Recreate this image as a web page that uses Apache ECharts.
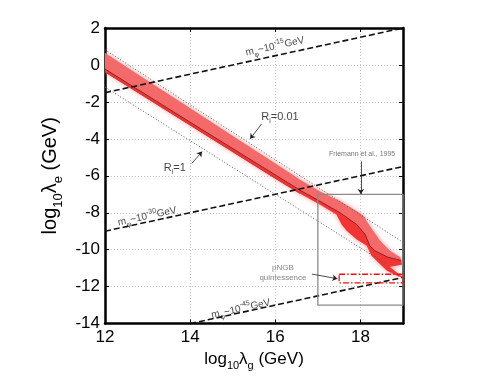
<!DOCTYPE html>
<html><head><meta charset="utf-8">
<script src="https://cdn.jsdelivr.net/npm/echarts@6/dist/echarts.min.js"></script>
<style>html,body{margin:0;padding:0;background:#fff}#c{width:501px;height:376px}</style>
</head><body><div id="c"></div>
<script>
// ---- data ----
const xTicks = [12, 14, 16, 18];
const yTicks = [-14, -12, -10, -8, -6, -4, -2, 0, 2];
const bandUpper = [[12,0.65],[13,-0.85],[14,-2.34],[15,-3.84],[16,-5.33],[16.58,-6.22],[17.05,-6.85],[17.52,-7.38],[17.91,-7.92],[18.07,-8.18],[18.22,-8.72],[18.46,-9.52],[18.69,-10.06],[18.93,-10.41],[18.97,-10.6]];
const bandNotch = [[18.97,-10.82],[18.68,-10.92],[18.97,-11.45]];
const bandLower = [[12,-0.38],[14,-3.26],[16,-6.14],[16.58,-6.96],[17.05,-7.56],[17.44,-8.09],[17.56,-8.63],[17.68,-8.98],[17.91,-9.43],[18.15,-9.79],[18.26,-10.32],[18.46,-10.77],[18.62,-11.13],[18.85,-11.39],[18.97,-11.5]];
const coreLine = [[12,-0.22],[14,-3.1],[16,-5.95],[16.58,-6.78],[17.05,-7.38],[17.52,-8.0],[17.91,-8.63],[18.11,-9.17],[18.22,-9.79],[18.34,-10.06],[18.65,-10.41],[18.95,-10.58]];
const mass15 = [[12,-1.5],[19,2]];
const mass30 = [[12,-9],[19,-5.5]];
const mass45 = [[14,-14],[19,-11.5]];
const dotUpper = [[12,0.82],[19,-9.6]];
const dotLower = [[12,-1.2],[18.6,-10.77]];
const friemannBox = [[17,-7],[19,-7],[19,-13],[17,-13],[17,-7]];
const pngbBox = [[17.5,-11.33],[19,-11.33],[19,-11.8],[17.5,-11.8],[17.5,-11.33]];
const annoText = [
  '{m|m}{b|φ}{m|~10}{p|-15}{m|GeV}',
  '{m|m}{b|φ}{m|~10}{p|-30}{m|GeV}',
  '{m|m}{b|φ}{m|~10}{p|-45}{m|GeV}',
  '{r|R}{i|i}{r|=0.01}',
  '{r|R}{i|i}{r|=1}',
  '{f|Friemann et al., 1995}',
  '{q|pNGB}\n{q|quintessence}'
];
const annoPos = [[15.99,1.0],[12.99,-8.2],[15.19,-13.2],[16.11,-2.82],[13.64,-5.6],[18.04,-4.8],[16.18,-11.23]];
const arrows = [
  [[15.68,-3.19],[15.41,-4.0]],
  [[14.04,-5.33],[14.28,-4.69]],
  [[18.01,-5.23],[18.01,-6.99]],
  [[16.86,-11.32],[17.46,-11.57]]
];

// ---- chart ----
const FF = '"Liberation Sans", Arial, sans-serif';
const annoRot = [12.4, 12.4, 12.4, 0, 0, 0, 0];
const rich = {
  m: {fontSize: 10, lineHeight: 15, verticalAlign: 'middle', fontFamily: FF, color: '#111'},
  b: {fontSize: 7, lineHeight: 8, verticalAlign: 'bottom', fontFamily: FF, color: '#111'},
  p: {fontSize: 7, lineHeight: 8, verticalAlign: 'top', fontFamily: FF, color: '#111'},
  r: {fontSize: 11, lineHeight: 15, verticalAlign: 'middle', fontFamily: FF, color: '#111'},
  i: {fontSize: 7, lineHeight: 8, verticalAlign: 'bottom', fontFamily: FF, color: '#111'},
  f: {fontSize: 7, lineHeight: 9, fontFamily: FF, color: '#555'},
  q: {fontSize: 8, lineHeight: 10, fontFamily: FF, color: '#666', align: 'center'}
};

const chart = echarts.init(document.getElementById('c'), null, {renderer: 'canvas'});
const axisLine = {show: true, onZero: false, lineStyle: {color: '#000', width: 2.5}};
const tick = {show: true, inside: true, length: 4, lineStyle: {color: '#000', width: 1}};
const split = {show: true, lineStyle: {color: '#c4c4c4', width: 1, type: [1, 2]}};
const xNameRich = {
  a: {fontSize: 17, lineHeight: 24, verticalAlign: 'middle', fontFamily: FF, color: '#000'},
  s: {fontSize: 11, lineHeight: 12, verticalAlign: 'bottom', fontFamily: FF, color: '#000'}
};
const yNameRich = {
  a: {fontSize: 20, lineHeight: 28, verticalAlign: 'middle', fontFamily: FF, color: '#000'},
  s: {fontSize: 13, lineHeight: 14, verticalAlign: 'bottom', fontFamily: FF, color: '#000'}
};

function lineSeries(data, color, width, type, z) {
  return {type: 'line', data: data, symbol: 'none', silent: true, z: z || 4,
    lineStyle: {color: color, width: width, type: type}};
}

chart.setOption({
  animation: false,
  grid: {left: 105, top: 28, right: 98, bottom: 49},
  xAxis: [{
    type: 'value', min: 12, max: 19, interval: 2, position: 'bottom',
    axisLine: axisLine, axisTick: tick, splitLine: split,
    axisLabel: {fontSize: 17, color: '#000', fontFamily: FF, margin: 5, showMaxLabel: false,
      formatter: v => xTicks.includes(v) ? String(v) : ''},
    name: '{a|log}{s|10}{a|λ}{s|g}{a| (GeV)}', nameLocation: 'middle', nameGap: 18,
    nameTextStyle: {rich: xNameRich}
  }, {
    type: 'value', min: 12, max: 19, interval: 2, position: 'top',
    axisLine: axisLine, axisTick: tick, splitLine: {show: false}, axisLabel: {show: false}
  }],
  yAxis: [{
    type: 'value', min: -14, max: 2, interval: 2, position: 'left',
    axisLine: axisLine, axisTick: tick, splitLine: split,
    axisLabel: {fontSize: 17, color: '#000', fontFamily: FF, margin: 5,
      formatter: v => yTicks.includes(v) ? String(v) : ''},
    name: '{a|log}{s|10}{a|λ}{s|e}{a| (GeV)}', nameLocation: 'middle', nameGap: 23,
    nameTextStyle: {rich: yNameRich}
  }, {
    type: 'value', min: -14, max: 2, interval: 2, position: 'right',
    axisLine: axisLine, axisTick: tick, splitLine: {show: false}, axisLabel: {show: false}
  }],
  series: [
    {
      type: 'custom', silent: true, clip: true, z: 3,
      data: [[12, 0]],
      renderItem: function (params, api) {
        const outer = bandUpper.concat(bandNotch, bandLower.slice().reverse()).map(p => api.coord(p));
        const inner = coreLine.concat([[18.97,-10.8]], bandNotch.slice(1), bandLower.slice().reverse()).map(p => api.coord(p));
        const core = coreLine.map(p => api.coord(p));
        const lowEdge = bandLower.slice(0, 4).map(p => api.coord(p));
        return {type: 'group', children: [
          {type: 'polygon', shape: {points: outer}, style: {fill: 'rgba(250,160,160,0.9)', shadowBlur: 5, shadowColor: 'rgba(255,120,120,0.9)'}},
          {type: 'polygon', shape: {points: outer}, style: {fill: '#f46a6a'}},
          {type: 'polygon', shape: {points: inner}, style: {fill: 'rgba(240,40,40,0.8)'}},
          {type: 'polyline', shape: {points: core}, style: {stroke: '#7a1818', lineWidth: 0.8, fill: null}},
          {type: 'polyline', shape: {points: lowEdge}, style: {stroke: '#a02828', lineWidth: 0.6, fill: null}}
        ]};
      }
    },
    lineSeries(dotUpper, '#555', 1, [1, 2]),
    lineSeries(dotLower, '#555', 1, [1, 2]),
    lineSeries(mass15, '#111', 1.6, [6, 3], 5),
    lineSeries(mass30, '#111', 1.6, [6, 3], 5),
    lineSeries(mass45, '#111', 1.6, [6, 3], 5),
    lineSeries(friemannBox, '#8a8a8a', 1.3, 'solid', 5),
    lineSeries(pngbBox, '#ee1111', 1.3, [6, 2, 1.5, 2], 6),
    {
      type: 'lines', coordinateSystem: 'cartesian2d', silent: true, z: 7,
      symbol: ['none', 'arrow'], symbolSize: 5,
      lineStyle: {color: '#222', width: 0.8, opacity: 1},
      data: arrows.map(a => ({coords: a}))
    },
    {
      type: 'scatter', silent: true, z: 8, symbolSize: 0,
      data: annoPos.map((p, i) => ({
        value: p,
        label: {show: true, position: 'inside', formatter: annoText[i], rotate: annoRot[i],
          align: 'center', verticalAlign: 'middle', rich: rich}
      }))
    }
  ]
});
</script></body></html>
